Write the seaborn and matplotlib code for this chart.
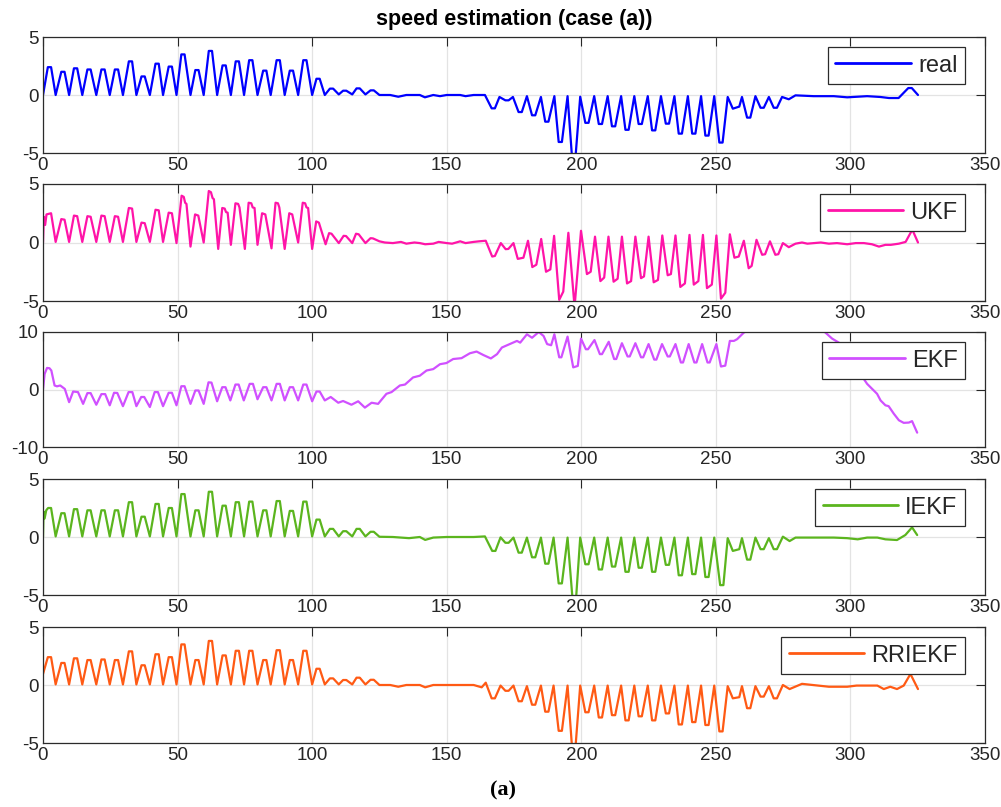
import matplotlib
matplotlib.use("Agg")
import matplotlib.pyplot as plt
import seaborn as sns
import pandas as pd

# ---------------- data ----------------
series_names = ["real", "UKF", "EKF", "IEKF", "RRIEKF"]
series_colors = ["#0000FF", "#FF14A8", "#D050FF", "#5BB51E", "#FF5A14"]
ylims = [(-5, 5), (-5, 5), (-10, 10), (-5, 5), (-5, 5)]
yticks = [[-5, 0, 5], [-5, 0, 5], [-10, 0, 10], [-5, 0, 5], [-5, 0, 5]]
xticks = [0, 50, 100, 150, 200, 250, 300, 350]
title_text = "speed estimation (case (a))"
caption_text = "(a)"

real_pts = [
    (0, 0), (1.8, 2.4), (3.0, 2.4), (4.7, 0),
    (6.8, 2.0), (8.0, 2.0), (9.7, 0),
    (11.5, 2.3), (12.7, 2.3), (14.6, 0),
    (16.5, 2.2), (17.7, 2.2), (19.8, 0),
    (21.7, 2.2), (22.9, 2.2), (24.8, 0),
    (26.7, 2.2), (27.9, 2.2), (29.7, 0),
    (31.9, 2.9), (33.1, 2.9), (34.7, 0),
    (36.6, 1.6), (37.8, 1.6), (39.7, 0),
    (41.8, 2.7), (43.0, 2.7), (44.6, 0),
    (46.7, 2.45), (47.9, 2.45), (49.6, 0),
    (51.4, 3.5), (52.6, 3.5), (54.8, 0),
    (56.6, 2.15), (57.8, 2.15), (59.7, 0),
    (61.6, 3.8), (62.8, 3.8), (64.7, 0),
    (66.7, 2.55), (67.9, 2.55), (69.8, 0),
    (71.6, 2.9), (72.8, 2.9), (74.7, 0),
    (76.6, 3.0), (77.8, 3.0), (79.7, 0),
    (81.8, 2.1), (83.0, 2.1), (84.6, 0),
    (86.8, 3.0), (88.0, 3.0), (89.8, 0),
    (91.7, 2.1), (92.9, 2.1), (94.8, 0),
    (96.7, 3.0), (97.9, 3.0), (100.0, 0),
    (101.6, 1.4), (102.8, 1.4), (104.7, 0),
    (106.6, 0.55), (107.8, 0.55), (109.9, 0.05),
    (111.5, 0.37), (112.7, 0.37), (114.9, 0.05),
    (116.5, 0.57), (117.7, 0.57), (119.8, 0.05),
    (121.7, 0.4), (122.9, 0.4), (125.0, 0),
    (129.0, 0), (132.0, -0.15), (135.0, 0), (140.0, 0), (141.9, -0.2),
    (145.0, 0), (147.5, -0.1), (150.0, 0), (155.0, 0), (157.0, -0.1), (160.0, 0), (164.2, 0),
    (166.7, -1.15), (167.9, -1.15), (169.6, -0.17),
    (171.8, -0.46), (173.0, -0.46), (174.6, -0.17),
    (176.7, -1.47), (177.9, -1.47), (179.8, -0.1),
    (181.7, -1.75), (182.9, -1.75), (185.0, -0.17),
    (186.6, -2.3), (187.8, -2.3), (190.0, -0.1),
    (191.6, -4.05), (192.8, -4.05), (194.9, -0.1),
    (196.6, -5.5), (197.8, -5.5), (199.6, -0.15),
    (201.5, -2.4), (202.7, -2.4), (204.8, -0.1),
    (206.5, -2.5), (207.7, -2.5), (209.8, -0.1),
    (211.4, -2.7), (212.6, -2.7), (214.8, -0.1),
    (216.4, -3.0), (217.6, -3.0), (219.7, -0.1),
    (221.3, -2.5), (222.5, -2.5), (224.7, -0.1),
    (226.3, -3.05), (227.5, -3.05), (229.6, -0.1),
    (231.4, -2.47), (232.6, -2.47), (234.6, -0.1),
    (236.2, -3.33), (237.4, -3.33), (239.6, -0.1),
    (241.2, -3.33), (242.4, -3.33), (244.5, -0.1),
    (246.1, -3.5), (247.3, -3.5), (249.4, -0.1),
    (251.3, -4.1), (252.5, -4.1), (254.4, -0.17),
    (256.3, -1.18), (258.7, -1.0), (259.7, -0.17),
    (261.6, -1.95), (262.8, -1.95), (264.7, -0.1),
    (266.6, -1.1), (267.8, -1.1), (269.7, -0.17),
    (271.5, -1.1), (272.7, -1.1), (274.6, -0.17),
    (277.1, -0.37), (279.6, -0.03), (286.3, -0.1),
    (293.8, -0.1), (298.8, -0.2), (306.2, -0.1), (311.1, -0.17), (314.3, -0.26), (317.9, -0.26),
    (321.5, 0.6), (322.8, 0.6), (325.1, 0),
]

ukf_pts = [
    (0, 0), (0.3, 2.2), (0.8, 1.5), (1.3, 2.4), (3.0, 2.5), (4.7, 0.05),
    (6.8, 2.0), (8.0, 1.95), (9.7, 0.05),
    (11.5, 2.3), (12.7, 2.25), (14.6, 0.05),
    (16.5, 2.25), (17.7, 2.2), (19.8, 0.05),
    (21.7, 2.3), (22.9, 2.25), (24.8, 0.05),
    (26.7, 2.25), (27.9, 2.2), (29.7, 0.05),
    (31.9, 2.95), (33.1, 2.9), (34.7, 0.05),
    (36.6, 1.7), (37.8, 1.65), (39.7, 0.05),
    (41.8, 2.8), (43.0, 2.75), (44.6, 0.05),
    (46.7, 2.55), (47.9, 2.5), (49.6, -0.05),
    (51.5, 4.0), (52.3, 3.9), (52.8, 3.4), (53.3, 3.3), (54.8, -0.35),
    (56.5, 2.4), (57.7, 2.3), (59.7, 0),
    (61.6, 4.4), (62.4, 4.3), (63.0, 3.8), (63.5, 3.7), (65.1, -0.55),
    (66.6, 2.95), (67.5, 2.9), (68.0, 2.6), (68.6, 2.55), (69.8, -0.2),
    (71.5, 3.35), (72.5, 3.3), (73.0, 3.0), (75.0, -0.55),
    (76.4, 3.4), (77.4, 3.35), (77.9, 3.0), (78.6, 2.95), (79.7, -0.2),
    (81.4, 2.5), (82.6, 2.4), (84.9, -0.5),
    (86.4, 3.4), (87.3, 3.35), (87.8, 3.0), (89.8, -0.55),
    (91.5, 2.5), (92.6, 2.4), (94.8, 0),
    (96.5, 3.4), (97.4, 3.35), (97.9, 3.0), (98.5, 2.95), (100.0, -0.55),
    (101.5, 1.8), (102.5, 1.7), (105.0, -0.15),
    (106.3, 0.8), (107.2, 0.75), (109.9, -0.05),
    (111.7, 0.57), (112.6, 0.55), (114.9, -0.05),
    (116.3, 0.75), (117.3, 0.7), (119.8, -0.05),
    (121.7, 0.37), (122.6, 0.35), (125, 0.1), (127, 0), (130, -0.05), (133, 0.05), (135, -0.1),
    (138, 0), (140, -0.05), (142, -0.15), (145, -0.1), (147, 0.05), (150, -0.05), (152, -0.1),
    (155, 0.1), (157, -0.05), (160, 0.05), (162, 0.1), (164.5, 0.15),
    (166.9, -1.2), (167.9, -1.15), (170.1, -0.05),
    (171.9, -0.57), (172.9, -0.55), (174.8, -0.05),
    (176.4, -1.4), (178.5, -1.3), (180.2, 0.15), (181.8, -2.1),
    (183.3, -1.9), (185.1, 0.3), (186.9, -2.5), (188.5, -2.3), (189.9, 0.57), (191.8, -4.9),
    (193.3, -4.2), (195.2, 0.83), (197.5, -5.5), (199.9, 1.0), (202.1, -2.7), (203.5, -2.5),
    (205.1, 0.5), (207.1, -3.3), (208.5, -3.0), (210.1, 0.5), (212.0, -3.35), (213.5, -3.1),
    (215.1, 0.5), (217.0, -3.5), (218.5, -3.3), (220.1, 0.5), (222.2, -3.05), (223.3, -2.9),
    (225.0, 0.5), (226.9, -3.4), (228.5, -3.2), (230.1, 0.6), (232.1, -2.8), (233.3, -2.7),
    (235.0, 0.6), (236.8, -3.8), (238.5, -3.5), (240.2, 0.65), (241.8, -3.6), (243.5, -3.3),
    (245.2, 0.65), (246.7, -3.9), (248.5, -3.6), (250.2, 0.6), (251.9, -4.8), (253.5, -4.3),
    (255.2, 0.7), (256.9, -1.3), (258.5, -1.2), (260.4, 0.15), (262.2, -2.2), (263.3, -2.0),
    (265.1, 0.23), (267.2, -1.05), (268.3, -1.0), (270.1, 0.1), (272.1, -1.05), (273.2, -1.0),
    (274.9, -0.05), (277.1, -0.4), (279.6, -0.1), (282, 0), (284, -0.1),
    (286.3, -0.05), (289, 0), (292, -0.1), (295, -0.05), (298.8, -0.15), (302, -0.05), (305, -0.05),
    (308, -0.15), (310.6, -0.35), (313, -0.2), (315, -0.2), (318, -0.1), (320.5, 0.05), (323, 1.1),
    (325.1, 0),
]

ekf_pts = [
    (0, 0), (0.6, 2.7), (1.5, 3.75), (2.4, 3.7), (3.1, 3.3), (4.3, 0.7), (5.2, 0.55), (6.4, 0.7),
    (8.1, 0.1), (9.7, -2.2),
    (11.2, -0.35), (13.0, -0.45), (14.9, -2.5),
    (16.5, -0.63), (17.7, -0.63), (19.8, -2.65),
    (21.7, -0.8), (23.1, -0.8), (24.8, -2.75),
    (26.4, -0.57), (27.6, -0.6), (29.7, -2.9),
    (31.8, -0.45), (33.2, -0.45), (34.7, -2.9),
    (36.5, -1.3), (37.6, -1.3), (39.7, -3.05),
    (41.5, -0.45), (42.7, -0.45), (44.6, -2.9),
    (46.7, -0.57), (47.9, -0.57), (49.6, -2.75),
    (51.4, 0.57), (52.6, 0.57), (54.8, -2.5),
    (56.6, -0.17), (57.8, -0.17), (59.7, -2.5),
    (61.5, 1.25), (62.6, 1.2), (64.7, -2.05),
    (66.6, 0.4), (67.8, 0.4), (69.6, -1.9),
    (71.5, 0.86), (72.7, 0.86), (74.6, -1.9),
    (76.8, 0.98), (78.0, 0.98), (79.7, -1.7),
    (81.8, 0.4), (83.0, 0.4), (84.9, -1.9),
    (86.8, 0.98), (88.0, 0.98), (89.8, -1.9),
    (91.7, 0.4), (92.9, 0.4), (94.8, -1.9),
    (96.7, 0.86), (97.9, 0.86), (100.0, -2.05),
    (101.6, -0.35), (102.8, -0.35), (104.7, -1.9),
    (106.9, -1.3), (109.7, -2.3), (111.5, -2.0), (114.6, -2.65), (117.1, -2.05), (119.6, -3.15),
    (122.1, -2.3), (124.5, -2.5), (127.6, -0.75), (129.5, -0.45), (132.6, 0.7), (134.5, 0.86),
    (137.5, 2.1), (140.0, 2.4), (142.5, 3.3), (145.0, 3.55), (147.5, 4.4), (149.9, 4.6),
    (152.4, 5.3), (155.5, 5.45), (158.6, 6.3), (161.1, 6.6), (163.6, 6.0), (166.4, 5.4),
    (168.7, 6.15), (170.5, 7.3), (174.2, 8.05), (176.1, 8.45), (177.3, 8.15), (179.8, 9.6),
    (181.7, 9.0), (184.2, 10.0), (186.0, 9.3), (187.3, 7.9), (188.8, 7.7), (190.0, 9.6),
    (191.8, 5.6), (192.6, 5.6), (194.9, 9.2),
    (197.0, 3.85), (198.7, 4.1), (199.9, 8.85),
    (201.7, 7.0), (202.5, 7.0), (204.9, 8.6),
    (206.9, 6.15), (207.7, 6.15), (210.2, 8.3),
    (212.2, 5.3), (213.0, 5.3), (215.1, 8.05),
    (217.2, 5.75), (218.0, 5.75), (220.1, 8.05),
    (222.2, 5.6), (223.0, 5.6), (225.0, 7.9),
    (227.1, 5.2), (227.9, 5.2), (230.0, 7.9),
    (232.1, 5.75), (232.9, 5.75), (235.0, 7.9),
    (237.0, 4.7), (237.8, 4.7), (239.9, 7.9),
    (242.0, 4.7), (242.8, 4.7), (244.9, 7.9),
    (246.9, 4.7), (247.7, 4.7), (250.2, 7.9),
    (251.9, 4.0), (253.5, 4.15), (255.2, 8.45), (256.7, 8.45), (257.9, 8.75), (260.4, 9.9),
    (262.8, 10.5), (266.0, 11.5), (270.0, 12.5), (275.0, 13.0), (280.0, 12.8), (285.0, 12.0),
    (288.0, 11.0), (290.7, 9.9), (293.2, 8.85), (295.7, 8.15), (299.0, 6.0), (302.0, 4.0),
    (304.0, 2.5), (306.2, 0.98), (308.1, 0.1), (309.9, -0.75), (311.2, -1.9), (313.0, -2.75),
    (314.2, -2.9), (316.1, -4.2), (318.0, -5.35), (319.8, -5.8), (321.7, -5.75), (322.9, -5.5),
    (324.8, -7.5),
]

iekf_pts = [
    (0, 0), (0.2, 2.2), (0.6, 1.6), (1.2, 2.3), (1.9, 2.5), (3.0, 2.5), (4.7, 0.05),
    (6.8, 2.05), (8.0, 2.05), (9.7, 0.05),
    (11.5, 2.4), (12.7, 2.4), (14.6, 0.05),
    (16.5, 2.3), (17.7, 2.3), (19.8, 0.05),
    (21.7, 2.3), (22.9, 2.3), (24.8, 0.05),
    (26.7, 2.3), (27.9, 2.3), (29.7, 0.05),
    (31.9, 3.0), (33.1, 3.0), (34.7, 0.05),
    (36.6, 1.75), (37.8, 1.75), (39.7, 0.05),
    (41.8, 2.85), (43.0, 2.85), (44.6, 0.05),
    (46.7, 2.5), (47.9, 2.5), (49.6, 0.05),
    (51.4, 3.7), (52.6, 3.7), (54.8, 0.05),
    (56.6, 2.3), (57.8, 2.3), (59.7, 0.05),
    (61.6, 3.9), (62.8, 3.9), (64.7, 0.05),
    (66.7, 2.7), (67.9, 2.7), (69.8, 0.05),
    (71.6, 3.0), (72.8, 3.0), (74.7, 0.05),
    (76.6, 3.05), (77.8, 3.05), (79.7, 0.05),
    (81.8, 2.3), (83.0, 2.3), (84.6, 0.05),
    (86.8, 3.1), (88.0, 3.1), (89.8, 0.05),
    (91.7, 2.25), (92.9, 2.25), (94.8, 0.05),
    (96.7, 3.05), (97.9, 3.05), (100.0, 0.05),
    (101.6, 1.5), (102.8, 1.5), (104.7, 0.05),
    (106.6, 0.7), (107.8, 0.7), (109.9, 0.05),
    (111.5, 0.5), (112.7, 0.5), (114.9, 0.05),
    (116.5, 0.7), (117.7, 0.7), (119.8, 0.05),
    (121.7, 0.45), (122.9, 0.45), (125, 0.02),
    (130, 0), (133, -0.05), (136, -0.1), (140, 0), (142, -0.25), (145, -0.05), (150, 0), (155, 0),
    (160, 0), (164.2, 0.05),
    (166.9, -1.2), (168.1, -1.2), (170.0, -0.03),
    (171.8, -0.5), (173.0, -0.5), (174.8, -0.05),
    (176.7, -1.35), (177.9, -1.35), (179.8, -0.05),
    (181.7, -1.75), (182.9, -1.75), (185.0, -0.05),
    (186.6, -2.3), (187.8, -2.3), (189.7, -0.05),
    (191.6, -4.0), (192.8, -4.0), (194.9, -0.05),
    (196.8, -5.5), (198.0, -5.5), (199.6, -0.05),
    (201.5, -2.35), (202.7, -2.35), (204.8, -0.05),
    (206.5, -2.8), (207.7, -2.8), (209.8, -0.05),
    (211.4, -2.55), (212.6, -2.55), (214.8, -0.05),
    (216.4, -3.0), (217.6, -3.0), (219.7, -0.05),
    (221.3, -2.65), (222.5, -2.65), (224.7, -0.05),
    (226.3, -3.0), (227.5, -3.0), (229.6, -0.05),
    (231.4, -2.4), (232.6, -2.4), (234.6, -0.05),
    (236.2, -3.3), (237.4, -3.3), (239.6, -0.05),
    (241.2, -3.2), (242.4, -3.2), (244.5, -0.05),
    (246.1, -3.45), (247.3, -3.45), (249.4, -0.05),
    (251.6, -4.15), (252.8, -4.15), (254.4, -0.1),
    (256.3, -1.2), (258.7, -1.05), (259.7, -0.1),
    (261.6, -1.95), (262.8, -1.95), (264.7, -0.05),
    (266.6, -1.05), (267.8, -1.05), (269.7, -0.1),
    (271.5, -1.05), (272.7, -1.05), (274.9, 0.03),
    (277.4, -0.35), (279.6, -0.05), (286, -0.05), (293.8, -0.05), (298.8, -0.1), (302.7, -0.2),
    (306.2, -0.05), (310, -0.05), (313.0, -0.2), (317.3, -0.26), (320.4, 0.17), (322.9, 0.83),
    (324.8, 0.17),
]

rriekf_pts = [
    (0, 0.95), (1.8, 2.4), (3.0, 2.4), (4.7, 0.05),
    (6.8, 1.9), (8.0, 1.9), (9.7, 0.05),
    (11.5, 2.3), (12.7, 2.3), (14.6, 0.05),
    (16.5, 2.15), (17.7, 2.15), (19.8, 0.05),
    (21.7, 2.2), (22.9, 2.2), (24.8, 0.05),
    (26.7, 2.15), (27.9, 2.15), (29.7, 0.05),
    (31.9, 2.9), (33.1, 2.9), (34.7, 0.05),
    (36.6, 1.7), (37.8, 1.7), (39.7, 0.05),
    (41.8, 2.65), (43.0, 2.65), (44.6, 0.05),
    (46.7, 2.4), (47.9, 2.4), (49.6, 0.05),
    (51.4, 3.5), (52.6, 3.5), (54.8, 0.05),
    (56.6, 2.15), (57.8, 2.15), (59.7, 0.05),
    (61.6, 3.8), (62.8, 3.8), (64.7, 0.05),
    (66.7, 2.55), (67.9, 2.55), (69.8, 0.05),
    (71.6, 2.95), (72.8, 2.95), (74.7, 0.05),
    (76.6, 2.95), (77.8, 2.95), (79.7, 0.05),
    (81.8, 2.15), (83.0, 2.15), (84.6, 0.05),
    (86.8, 3.0), (88.0, 3.0), (89.8, 0.05),
    (91.7, 2.15), (92.9, 2.15), (94.8, 0.05),
    (96.7, 2.95), (97.9, 2.95), (100.0, 0.05),
    (101.6, 1.4), (102.8, 1.4), (104.7, 0.05),
    (106.6, 0.57), (107.8, 0.57), (109.9, 0.05),
    (111.5, 0.43), (112.7, 0.43), (114.9, 0.05),
    (116.5, 0.63), (117.7, 0.63), (119.8, 0.05),
    (121.7, 0.45), (122.9, 0.45), (125, 0),
    (129, 0), (132, -0.15), (135, 0), (140, 0), (142, -0.2), (145, 0), (150, 0), (155, 0), (160, 0),
    (163, -0.2), (164.5, 0.2),
    (166.7, -1.15), (167.9, -1.15), (170.0, -0.05),
    (171.8, -0.5), (173.0, -0.5), (174.8, -0.05),
    (176.7, -1.4), (177.9, -1.4), (179.8, -0.1),
    (181.7, -1.7), (182.9, -1.7), (185.0, -0.05),
    (186.6, -2.3), (187.8, -2.3), (189.7, -0.05),
    (191.6, -3.95), (192.8, -3.95), (194.9, -0.05),
    (196.6, -5.5), (197.8, -5.5), (199.6, -0.05),
    (201.5, -2.35), (202.7, -2.35), (204.8, -0.05),
    (206.5, -2.8), (207.7, -2.8), (209.8, -0.05),
    (211.4, -2.6), (212.6, -2.6), (214.8, -0.05),
    (216.4, -3.05), (217.6, -3.05), (219.7, -0.05),
    (221.3, -2.7), (222.5, -2.7), (224.7, -0.05),
    (226.3, -3.05), (227.5, -3.05), (229.6, -0.05),
    (231.4, -2.45), (232.6, -2.45), (234.6, -0.05),
    (236.2, -3.4), (237.4, -3.4), (239.6, -0.05),
    (241.2, -3.2), (242.4, -3.2), (244.5, -0.05),
    (246.1, -3.45), (247.3, -3.45), (249.4, -0.05),
    (251.3, -4.0), (252.5, -4.0), (254.4, -0.1),
    (256.3, -1.15), (258.7, -1.05), (259.7, -0.1),
    (261.6, -2.0), (262.8, -2.0), (264.7, -0.1),
    (266.6, -1.0), (267.8, -1.0), (269.7, -0.1),
    (271.5, -1.15), (272.7, -1.15), (274.9, 0),
    (277.4, -0.35), (282, 0.1), (292, -0.15), (298.8, -0.15), (302.3, -0.05),
    (310, -0.05), (312.4, -0.35), (314.8, -0.15), (317.3, -0.35), (319.8, -0.05), (322.3, 0.95),
    (325.1, -0.35),
]

all_points = [real_pts, ukf_pts, ekf_pts, iekf_pts, rriekf_pts]

# ---------------- styling ----------------
sns.set_style("white")
plt.rcParams["font.family"] = ["Liberation Sans", "DejaVu Sans"]
plt.rcParams["axes.unicode_minus"] = False
TXT = "#262626"

fig = plt.figure(figsize=(10.01, 8.07), dpi=100)
fig.patch.set_facecolor("white")

W, H = 1001.0, 807.0
left_px, right_px = 43, 985
panel_px = [(37, 153), (184, 301), (332, 447), (479, 595), (627, 743)]

for i, (name, color, pts) in enumerate(zip(series_names, series_colors, all_points)):
    top, bot = panel_px[i]
    ax = fig.add_axes([left_px / W, 1 - bot / H, (right_px - left_px) / W, (bot - top) / H])
    df = pd.DataFrame(pts, columns=["t", "v"])
    sns.lineplot(data=df, x="t", y="v", ax=ax, color=color, linewidth=1.6,
                 sort=False, estimator=None, label=name)
    for ln in ax.get_lines():
        ln.set_solid_joinstyle("round")
    ax.set_xlim(0, 350)
    ax.set_ylim(*ylims[i])
    ax.set_xticks(xticks)
    ax.set_yticks(yticks[i])
    ax.set_xlabel("")
    ax.set_ylabel("")
    ax.grid(True, color="#e3e3e3", linewidth=0.9)
    ax.set_axisbelow(True)
    ax.tick_params(direction="in", length=6.5, width=0.8, colors=TXT, labelsize=13.5,
                   top=True, right=True, labeltop=False, labelright=False, pad=3)
    for sp in ax.spines.values():
        sp.set_color("#2b2b2b")
        sp.set_linewidth(0.9)
    leg = ax.legend(loc="upper right", bbox_to_anchor=((965 - left_px) / (right_px - left_px),
                                                        1 - 10 / (bot - top)),
                    borderaxespad=0, fontsize=17, frameon=True, fancybox=False,
                    framealpha=1, edgecolor="#2b2b2b", handlelength=3.2,
                    handletextpad=0.3, borderpad=0.32)
    leg.get_frame().set_linewidth(0.9)
    for h in leg.get_lines():
        h.set_linewidth(2.0)
    if i == 0:
        ax.set_title(title_text, fontsize=15.5, fontweight="bold", color="black", pad=9)

fig.text(503 / W, 1 - 790 / H, caption_text, ha="center", va="center",
         fontsize=16, fontweight="bold", family=["Liberation Serif", "DejaVu Serif"], color="black")

fig.savefig("out.png", dpi=100, facecolor="white")
